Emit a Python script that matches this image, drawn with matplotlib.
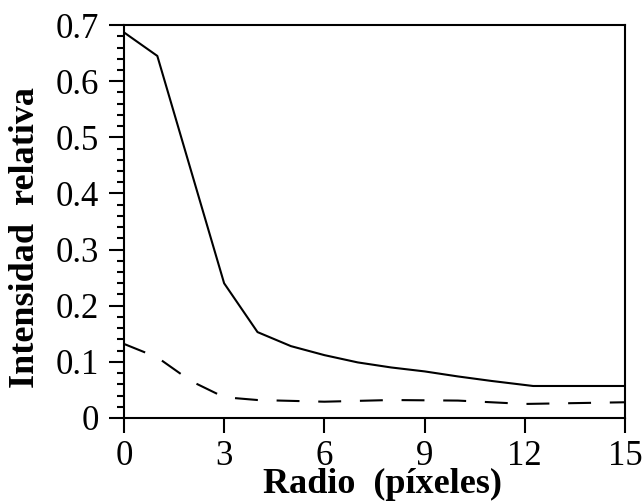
import numpy as np
import matplotlib
matplotlib.use("Agg")
from matplotlib import pyplot as plt
from matplotlib.ticker import MultipleLocator

# datos
radio_total = [0, 1, 3, 4, 5, 6, 7, 8, 9, 10, 11, 12.25, 15]
int_total = [0.687, 0.645, 0.240, 0.153, 0.128, 0.112, 0.099, 0.090, 0.083, 0.074, 0.066, 0.057, 0.057]

radio_fondo = [0, 1, 2, 3, 4, 6, 8, 10, 12, 15]
int_fondo = [0.132, 0.108, 0.066, 0.037, 0.032, 0.029, 0.032, 0.031, 0.025, 0.028]

xticks = [0, 3, 6, 9, 12, 15]
yticks = [0, 0.1, 0.2, 0.3, 0.4, 0.5, 0.6, 0.7]

plt.rcParams['font.family'] = ['Liberation Serif', 'DejaVu Serif']

fig = plt.figure(figsize=(6.42, 5.01), dpi=100)
ax = fig.add_axes([0.193, 0.1657, 0.7805, 0.7843])

ax.plot(radio_total, int_total, color="black", lw=1.5)
ax.plot(radio_fondo, int_fondo, color="black", lw=1.5, dashes=(11, 9))

ax.set_xlim(0, 15)
ax.set_ylim(0, 0.7)
ax.set_xticks(xticks)
ax.set_xticklabels([str(t) for t in xticks])
ax.set_yticks(yticks)
ax.set_yticklabels(["0"] + ["%.1f" % t for t in yticks[1:]])
ax.yaxis.set_minor_locator(MultipleLocator(0.02))

ax.tick_params(axis="both", which="major", direction="out", length=11, width=1.5,
               labelsize=25, pad=5)
ax.tick_params(axis="y", which="major", pad=7)
ax.tick_params(axis="y", which="minor", direction="out", length=5, width=1.5)
for s in ax.spines.values():
    s.set_linewidth(1.5)

ax.set_xlabel("Radio  (píxeles)", fontsize=26, fontweight="bold")
ax.xaxis.set_label_coords(0.516, -0.126)
ax.set_ylabel("Intensidad  relativa", fontsize=26, fontweight="bold")
ax.yaxis.set_label_coords(-0.163, 0.459)

fig.savefig("out.png", dpi=100)
